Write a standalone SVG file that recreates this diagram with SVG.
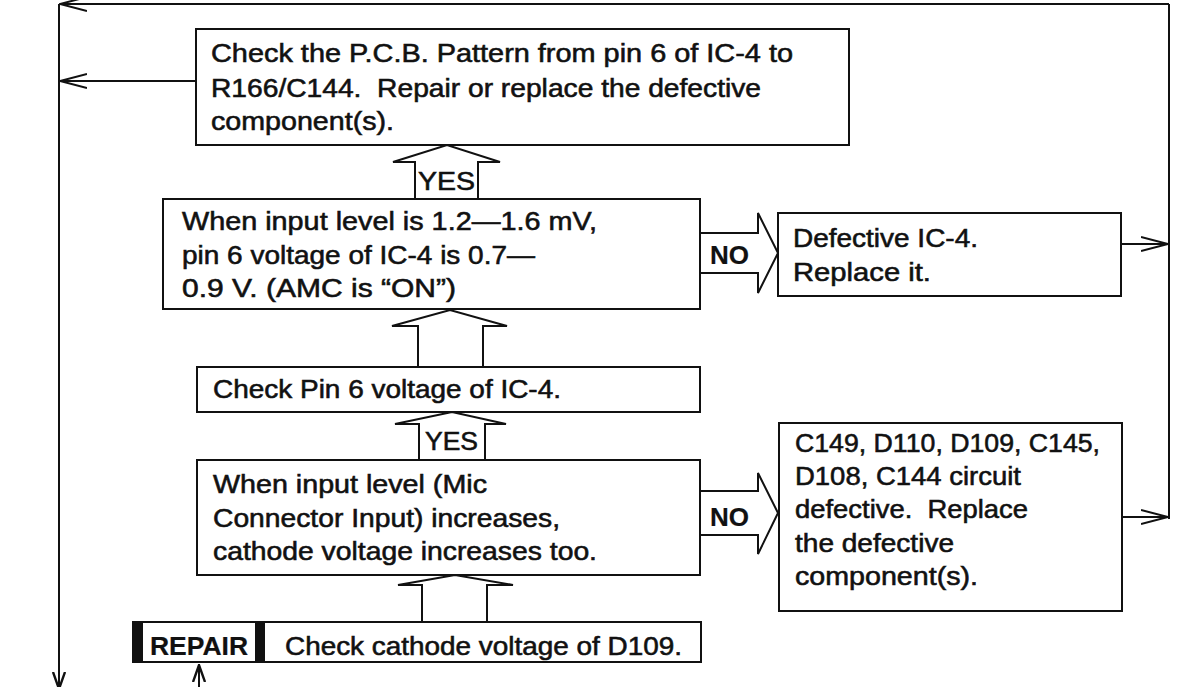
<svg xmlns="http://www.w3.org/2000/svg" width="1177" height="687" viewBox="0 0 1177 687">
<style>
.box{fill:#fff;stroke:#111;stroke-width:2}
.ln{fill:none;stroke:#111;stroke-width:2}
.blk{fill:#111;stroke:none}
.hollow{fill:#fff;stroke:#111;stroke-width:2;stroke-linejoin:miter}
text{font-family:"Liberation Sans",Arial,Helvetica,sans-serif;font-size:25px;fill:#111;stroke:#111;stroke-width:0.55px}
.bold{font-weight:bold;stroke-width:0.2px}
</style>
<defs>
<marker id="ah" viewBox="0 0 28 16" refX="27" refY="8" markerWidth="28" markerHeight="16" orient="auto" markerUnits="userSpaceOnUse">
<path d="M0,1 L27,8 L0,15" fill="none" stroke="#111" stroke-width="2"/>
</marker>
<marker id="ahs" viewBox="0 0 18 14" refX="17" refY="7" markerWidth="18" markerHeight="14" orient="auto" markerUnits="userSpaceOnUse">
<path d="M0,1 L17,7 L0,13" fill="none" stroke="#111" stroke-width="2.4"/>
</marker>
</defs>
<rect width="1177" height="687" fill="#fff"/>
<g id="connectors">
<path class="ln" d="M1169,4 V519"/>
<path class="ln" d="M1169,4 H60" marker-end="url(#ah)"/>
<path class="ln" d="M59,4 V689" marker-end="url(#ahs)"/>
<path class="ln" d="M196,81 H60" marker-end="url(#ah)"/>
<path class="ln" d="M1121,244 H1168" marker-end="url(#ah)"/>
<path class="ln" d="M1122,517 H1168" marker-end="url(#ah)"/>
<path class="ln" d="M199,687 V665" marker-end="url(#ahs)"/>
<path class="hollow" d="M415,199 V162 H393 L447,145 L500,162 H478 V199"/>
<path class="hollow" d="M418,367 V326 H392 L450,310 L507,326 H483 V367"/>
<path class="hollow" d="M419,460 V424 H395 L452,412 L506,424 H485 V460"/>
<path class="hollow" d="M422,622 V585 H398 L455,575 L513,585 H487 V622"/>
<path class="hollow" d="M700,233 H758 V213 L778,253 L758,293 V273 H700"/>
<path class="hollow" d="M700,491 H758 V473 L778,513 L758,554 V535 H700"/>
<text x="418" y="190" textLength="57" lengthAdjust="spacingAndGlyphs">YES</text>
<text x="425" y="450" textLength="53" lengthAdjust="spacingAndGlyphs">YES</text>
<text class="bold" x="710" y="264" textLength="39" lengthAdjust="spacingAndGlyphs">NO</text>
<text class="bold" x="710" y="526" textLength="39" lengthAdjust="spacingAndGlyphs">NO</text>
</g>
<g id="n_pcb">
<rect class="box" x="196" y="29" width="653" height="116"/>
<text x="211" y="62" textLength="582" lengthAdjust="spacingAndGlyphs">Check the P.C.B. Pattern from pin 6 of IC-4 to</text>
<text x="211" y="97" textLength="550" lengthAdjust="spacingAndGlyphs" xml:space="preserve">R166/C144.  Repair or replace the defective</text>
<text x="211" y="130" textLength="183" lengthAdjust="spacingAndGlyphs">component(s).</text>
</g>
<g id="n_amc">
<rect class="box" x="163" y="199" width="537" height="110"/>
<text x="182" y="230" textLength="415" lengthAdjust="spacingAndGlyphs">When input level is 1.2—1.6 mV,</text>
<text x="182" y="264" textLength="353" lengthAdjust="spacingAndGlyphs">pin 6 voltage of IC-4 is 0.7—</text>
<text x="182" y="297" textLength="274" lengthAdjust="spacingAndGlyphs">0.9 V. (AMC is “ON”)</text>
</g>
<g id="n_check_pin6">
<rect class="box" x="197" y="367" width="503" height="45"/>
<text x="213" y="398" textLength="348" lengthAdjust="spacingAndGlyphs">Check Pin 6 voltage of IC-4.</text>
</g>
<g id="n_cathode_inc">
<rect class="box" x="197" y="460" width="503" height="115"/>
<text x="213" y="493" textLength="274" lengthAdjust="spacingAndGlyphs">When input level (Mic</text>
<text x="213" y="527" textLength="347" lengthAdjust="spacingAndGlyphs">Connector Input) increases,</text>
<text x="213" y="560" textLength="384" lengthAdjust="spacingAndGlyphs">cathode voltage increases too.</text>
</g>
<g id="n_ic4_defective">
<rect class="box" x="778" y="213" width="343" height="83"/>
<text x="793" y="247" textLength="185" lengthAdjust="spacingAndGlyphs">Defective IC-4.</text>
<text x="793" y="281" textLength="138" lengthAdjust="spacingAndGlyphs">Replace it.</text>
</g>
<g id="n_circuit_defective">
<rect class="box" x="779" y="423" width="343" height="188"/>
<text x="795" y="452" textLength="305" lengthAdjust="spacingAndGlyphs">C149, D110, D109, C145,</text>
<text x="795" y="485" textLength="226" lengthAdjust="spacingAndGlyphs">D108, C144 circuit</text>
<text x="795" y="518" textLength="233" lengthAdjust="spacingAndGlyphs" xml:space="preserve">defective.  Replace</text>
<text x="795" y="552" textLength="159" lengthAdjust="spacingAndGlyphs">the defective</text>
<text x="795" y="585" textLength="183" lengthAdjust="spacingAndGlyphs">component(s).</text>
</g>
<g id="n_repair">
<rect class="box" x="133" y="622" width="568" height="40"/>
<rect class="blk" x="133" y="621" width="10" height="42"/>
<rect class="blk" x="255" y="621" width="10" height="42"/>
<text class="bold" x="150" y="655" textLength="98" lengthAdjust="spacingAndGlyphs">REPAIR</text>
<text x="285" y="655" textLength="397" lengthAdjust="spacingAndGlyphs">Check cathode voltage of D109.</text>
</g>
</svg>
